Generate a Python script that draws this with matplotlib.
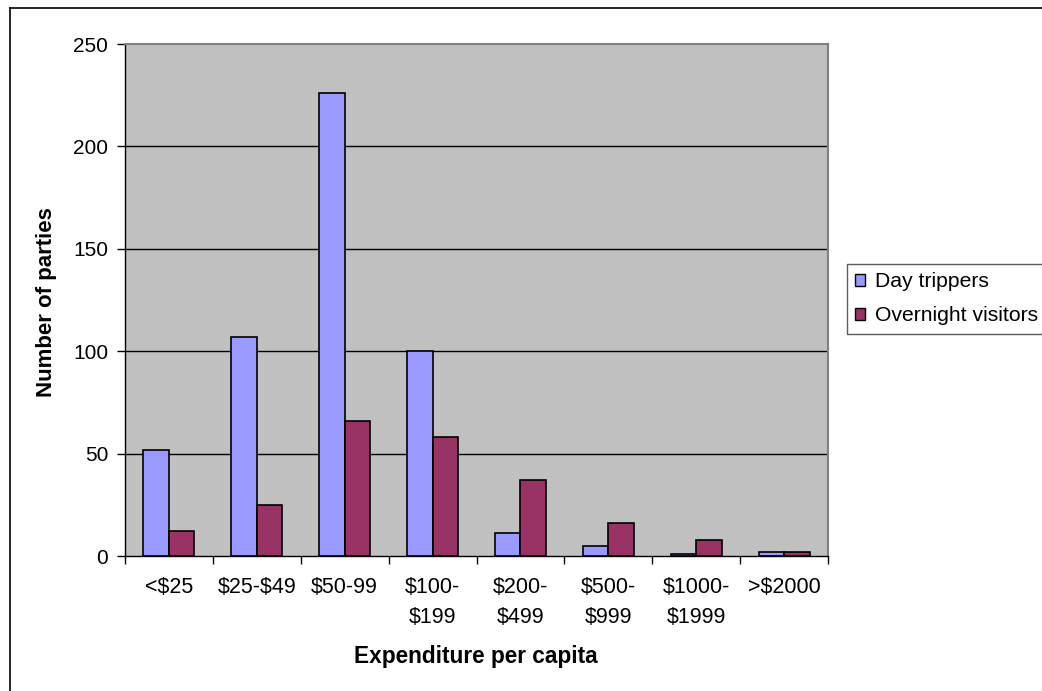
import numpy as np
import matplotlib
matplotlib.use('Agg')
import matplotlib.pyplot as plt
from matplotlib.lines import Line2D
from matplotlib.patches import Patch

plt.rcParams['font.family'] = ['Liberation Sans', 'DejaVu Sans']
plt.rcParams['text.parse_math'] = False

########## Data ##########
categories = ['<$25', '$25-$49', '$50-99', '$100-\n$199', '$200-\n$499',
              '$500-\n$999', '$1000-\n$1999', '>$2000']
day_trippers = [52, 107, 226, 100, 11, 5, 1, 2]
overnight = [12, 25, 66, 58, 37, 16, 8, 2]
series_names = ['Day trippers', 'Overnight visitors']
yticks = [0, 50, 100, 150, 200, 250]

########## Style ##########
c_day = '#9999FF'
c_night = '#993366'
c_plot = '#C0C0C0'
fs = 15

W, H = 1042, 691
fig = plt.figure(figsize = [W / 100, H / 100], dpi = 100)
ax = fig.add_axes([125 / W, 1 - 556 / H, 703 / W, 512 / H])
ax.set_facecolor(c_plot)

x = np.arange(len(categories))
bw = 0.29
ax.bar(x - bw / 2, day_trippers, bw, color = c_day, edgecolor = 'k', linewidth = 1.2, zorder = 3)
ax.bar(x + bw / 2, overnight, bw, color = c_night, edgecolor = 'k', linewidth = 1.2, zorder = 3)

ax.set_xlim(-0.5, len(categories) - 0.5)
ax.set_ylim(0, 250)
ax.set_yticks(yticks)
ax.set_yticklabels([str(v) for v in yticks], fontsize = fs)
for v in yticks[1:-1]:
    ax.axhline(v, color = '#000000', linewidth = 1.0, zorder = 1)

# ticks between categories, labels centred
ax.set_xticks(np.arange(len(categories) + 1) - 0.5)
ax.set_xticklabels([])
ax.set_xticks(x, minor = True)
ax.set_xticklabels(categories, minor = True, fontsize = 15.5, linespacing = 1.55)
ax.tick_params(axis = 'x', which = 'minor', length = 0, pad = 15)
ax.tick_params(axis = 'x', which = 'major', length = 6, width = 1, direction = 'out')
ax.tick_params(axis = 'y', length = 6, width = 1, direction = 'out', pad = 6)

for s in ['top', 'right']:
    ax.spines[s].set_color('#808080')
    ax.spines[s].set_linewidth(1.5)
for s in ['left', 'bottom']:
    ax.spines[s].set_color('k')
    ax.spines[s].set_linewidth(1.0)
ax.spines['bottom'].set_zorder(5)

fig.text(476 / W, 1 - 657 / H, 'Expenditure per capita', fontsize = 16.3, fontweight = 'bold',
         ha = 'center', va = 'center')
fig.text(47 / W, 1 - 302 / H, 'Number of parties', fontsize = 16, fontweight = 'bold',
         ha = 'center', va = 'center', rotation = 90)

########## Legend ##########
handles = [Patch(facecolor = c_day, edgecolor = 'k', linewidth = 1.0),
           Patch(facecolor = c_night, edgecolor = 'k', linewidth = 1.0)]
leg = fig.legend(handles, series_names, loc = 'upper left',
                 bbox_to_anchor = (847 / W, 1 - 264 / H), bbox_transform = fig.transFigure,
                 fontsize = 15.2, frameon = True, fancybox = False, borderaxespad = 0,
                 handlelength = 0.47, handleheight = 0.47, handletextpad = 0.45,
                 borderpad = 0.4, labelspacing = 0.7)
leg.get_frame().set_edgecolor('#333333')
leg.get_frame().set_linewidth(1.0)

########## Outer chart border ##########
fig.add_artist(Line2D([10 / W, 10 / W], [0, 1 - 8 / H], transform = fig.transFigure,
                      color = 'k', linewidth = 1.2))
fig.add_artist(Line2D([10 / W, 1], [1 - 8 / H, 1 - 8 / H], transform = fig.transFigure,
                      color = 'k', linewidth = 1.2))

fig.savefig('out.png', dpi = 100)
